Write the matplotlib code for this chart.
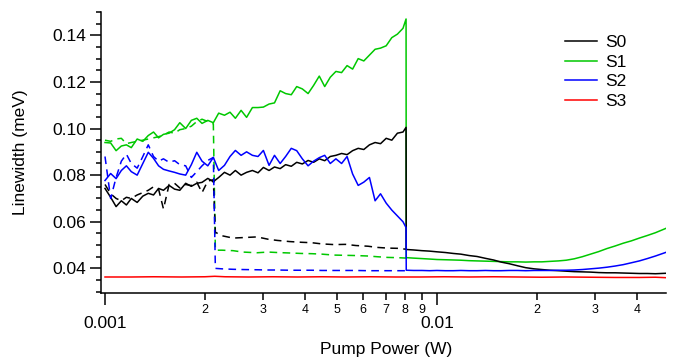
import matplotlib
matplotlib.use("Agg")
import matplotlib.pyplot as plt
from matplotlib.ticker import FixedLocator, FixedFormatter, NullFormatter

plt.rcParams['font.family'] = ['Liberation Sans', 'DejaVu Sans']

# low power sweep (solid traces), W
x_low = [0.00100, 0.00104, 0.00108, 0.00112, 0.00116, 0.00120, 0.00125, 0.00130,
         0.00135, 0.00140, 0.00145, 0.00150, 0.00156, 0.00162, 0.00168, 0.00175,
         0.00182, 0.00189, 0.00196, 0.00204, 0.00212, 0.00220, 0.00229, 0.00238,
         0.00247, 0.00257, 0.00267, 0.00278, 0.00289, 0.00300, 0.00312, 0.00324,
         0.00337, 0.00350, 0.00364, 0.00378, 0.00393, 0.00409, 0.00425, 0.00442,
         0.00459, 0.00477, 0.00496, 0.00516, 0.00536, 0.00557, 0.00579, 0.00602,
         0.00626, 0.00651, 0.00676, 0.00703, 0.00731, 0.00760, 0.00790, 0.00807]

s0_low = [0.0743, 0.0705, 0.0665, 0.0690, 0.0672, 0.0700, 0.0683, 0.0710, 0.0722, 0.0715,
          0.0743, 0.0735, 0.0756, 0.0740, 0.0735, 0.0765, 0.0752, 0.0765, 0.0769, 0.0786,
          0.0772, 0.0790, 0.0812, 0.0800, 0.0820, 0.0800, 0.0812, 0.0820, 0.0810, 0.0833,
          0.0820, 0.0835, 0.0828, 0.0845, 0.0838, 0.0855, 0.0848, 0.0863, 0.0855, 0.0870,
          0.0862, 0.0880, 0.0885, 0.0893, 0.0888, 0.0905, 0.0915, 0.0910, 0.0930, 0.0940,
          0.0935, 0.0958, 0.0950, 0.0980, 0.0985, 0.1005]

s1_low = [0.0940, 0.0938, 0.0905, 0.0925, 0.0930, 0.0918, 0.0955, 0.0945, 0.0970, 0.0985,
          0.0960, 0.0975, 0.0980, 0.0995, 0.1025, 0.1000, 0.1035, 0.1044, 0.1022, 0.1035,
          0.1025, 0.1066, 0.1057, 0.1070, 0.1044, 0.1078, 0.1048, 0.1090, 0.1090, 0.1092,
          0.1105, 0.1110, 0.1162, 0.1150, 0.1145, 0.1180, 0.1170, 0.1150, 0.1185, 0.1225,
          0.1180, 0.1220, 0.1245, 0.1240, 0.1270, 0.1255, 0.1300, 0.1290, 0.1315, 0.1340,
          0.1345, 0.1355, 0.1390, 0.1405, 0.1430, 0.1470]

s2_low = [0.0777, 0.0807, 0.0785, 0.0820, 0.0840, 0.0815, 0.0800, 0.0850, 0.0898, 0.0872,
          0.0840, 0.0825, 0.0818, 0.0812, 0.0805, 0.0800, 0.0845, 0.0898, 0.0860, 0.0840,
          0.0876, 0.0820, 0.0842, 0.0880, 0.0906, 0.0885, 0.0900, 0.0885, 0.0880, 0.0906,
          0.0842, 0.0885, 0.0850, 0.0880, 0.0915, 0.0905, 0.0870, 0.0840, 0.0860, 0.0875,
          0.0885, 0.0850, 0.0870, 0.0850, 0.0880, 0.0805, 0.0756, 0.0770, 0.0790, 0.0690,
          0.0720, 0.0680, 0.0650, 0.0625, 0.0600, 0.0575]

# high power part, after the jump (solid and dashed coincide here)
x_high = [0.00808, 0.0085, 0.0090, 0.0095, 0.0100, 0.0106, 0.0112, 0.0118, 0.0125,
          0.0132, 0.0140, 0.0148, 0.0156, 0.0165, 0.0175, 0.0185, 0.0196, 0.0207,
          0.0219, 0.0232, 0.0245, 0.0259, 0.0274, 0.0290, 0.0307, 0.0325, 0.0344,
          0.0364, 0.0385, 0.0407, 0.0430, 0.0455, 0.0490]

s0_high = [0.0481, 0.0479, 0.0476, 0.0474, 0.0471, 0.0468, 0.0464, 0.0461, 0.0455,
           0.0451, 0.0443, 0.0436, 0.0427, 0.0420, 0.0411, 0.0403, 0.0398, 0.0395,
           0.0392, 0.0390, 0.0388, 0.0386, 0.0385, 0.0384, 0.0382, 0.0381, 0.0381,
           0.0380, 0.0379, 0.0378, 0.0378, 0.0377, 0.0379]

s1_high = [0.0446, 0.0444, 0.0442, 0.0440, 0.0438, 0.0437, 0.0436, 0.0435, 0.0433,
           0.0432, 0.0431, 0.0430, 0.0429, 0.0428, 0.0428, 0.0427, 0.0428, 0.0428,
           0.0430, 0.0432, 0.0435, 0.0441, 0.0450, 0.0461, 0.0472, 0.0485, 0.0496,
           0.0508, 0.0518, 0.0530, 0.0541, 0.0553, 0.0572]

s2_high = [0.0392, 0.0391, 0.0391, 0.0390, 0.0391, 0.0390, 0.0390, 0.0391, 0.0390,
           0.0390, 0.0391, 0.0390, 0.0390, 0.0391, 0.0391, 0.0390, 0.0391, 0.0391,
           0.0391, 0.0392, 0.0392, 0.0393, 0.0395, 0.0398, 0.0401, 0.0405, 0.0410,
           0.0416, 0.0424, 0.0432, 0.0442, 0.0453, 0.0469]

# dashed traces (second sweep), jump near 2.14 mW
x_dash_lo = x_low[:21]
x_dash_hi = [0.00215, 0.00225, 0.00243, 0.00260, 0.00287, 0.00310, 0.00330, 0.00360,
             0.00390, 0.00420, 0.00450, 0.00490, 0.00530, 0.00570, 0.00620, 0.00660,
             0.00710, 0.00760, 0.00810]

s0_dash_lo = [0.0760, 0.0720, 0.0700, 0.0690, 0.0705, 0.0700, 0.0715, 0.0725, 0.0735,
              0.0750, 0.0740, 0.0655, 0.0760, 0.0765, 0.0745, 0.0760, 0.0755, 0.0770,
              0.0725, 0.0775, 0.0780]
s0_dash_hi = [0.0555, 0.0540, 0.0530, 0.0532, 0.0535, 0.0525, 0.0520, 0.0515, 0.0512,
              0.0510, 0.0505, 0.0502, 0.0503, 0.0498, 0.0495, 0.0490, 0.0487, 0.0486,
              0.0482]

s1_dash_lo = [0.0950, 0.0945, 0.0955, 0.0958, 0.0935, 0.0940, 0.0945, 0.0950, 0.0955,
              0.0960, 0.0965, 0.0972, 0.0985, 0.0980, 0.0995, 0.1000, 0.1010, 0.1030,
              0.1040, 0.1030, 0.1020]
s1_dash_hi = [0.0478, 0.0478, 0.0476, 0.0470, 0.0467, 0.0470, 0.0468, 0.0466, 0.0464,
              0.0463, 0.0461, 0.0457, 0.0456, 0.0455, 0.0453, 0.0450, 0.0447, 0.0446,
              0.0444]

s2_dash_lo = [0.0880, 0.0700, 0.0790, 0.0860, 0.0890, 0.0850, 0.0830, 0.0880, 0.0930,
              0.0880, 0.0860, 0.0870, 0.0855, 0.0862, 0.0845, 0.0840, 0.0790, 0.0815,
              0.0840, 0.0863, 0.0876]
s2_dash_hi = [0.0400, 0.0398, 0.0396, 0.0395, 0.0394, 0.0393, 0.0393, 0.0392, 0.0392,
              0.0392, 0.0391, 0.0391, 0.0391, 0.0391, 0.0390, 0.0390, 0.0390, 0.0390,
              0.0390]

# S3 is flat over the whole range
x_s3 = [0.00100, 0.00120, 0.00140, 0.00170, 0.00200, 0.00214, 0.00230, 0.00270, 0.00320,
        0.00380, 0.00450, 0.00530, 0.00630, 0.00750, 0.00890, 0.0105, 0.0125, 0.0148,
        0.0175, 0.0207, 0.0245, 0.0290, 0.0344, 0.0407, 0.0455, 0.0490]
s3 = [0.0363, 0.0363, 0.0364, 0.0363, 0.0364, 0.0366, 0.0364, 0.0363, 0.0364, 0.0363,
      0.0364, 0.0363, 0.0364, 0.0363, 0.0363, 0.0364, 0.0363, 0.0364, 0.0363, 0.0362,
      0.0363, 0.0362, 0.0361, 0.0361, 0.0362, 0.0360]

labels = ['S0', 'S1', 'S2', 'S3']
colors = ['black', '#00c800', '#0000ff', '#ff0000']

fig = plt.figure(figsize=(6.78, 3.58), dpi=100)
ax = fig.add_axes([0.1497, 0.1807, 0.8326, 0.7858])

lw = 1.1
dash = (5, 3.5)

handles = {}
# green, then black, then blue, then red on top
for name, lo, hi, dlo, dhi, c in [
        ('S1', s1_low, s1_high, s1_dash_lo, s1_dash_hi, colors[1]),
        ('S0', s0_low, s0_high, s0_dash_lo, s0_dash_hi, colors[0]),
        ('S2', s2_low, s2_high, s2_dash_lo, s2_dash_hi, colors[2])]:
    ax.plot(x_dash_lo + x_dash_hi, dlo + dhi, color=c, lw=lw, dashes=dash)
    h, = ax.plot(x_low + x_high, lo + hi, color=c, lw=lw, label=name)
    handles[name] = h
h, = ax.plot(x_s3, s3, color=colors[3], lw=lw, label='S3')
handles['S3'] = h

ax.set_xscale('log')
ax.set_xlim(0.000976, 0.04896)
ax.set_ylim(0.0293, 0.150)

ax.xaxis.set_major_locator(FixedLocator([0.001, 0.01]))
ax.xaxis.set_major_formatter(FixedFormatter(['0.001', '0.01']))
minor_x = [0.002, 0.003, 0.004, 0.005, 0.006, 0.007, 0.008, 0.009, 0.02, 0.03, 0.04]
ax.xaxis.set_minor_locator(FixedLocator(minor_x))
ax.xaxis.set_minor_formatter(FixedFormatter(['2', '3', '4', '5', '6', '7', '8', '9',
                                             '2', '3', '4']))

ax.yaxis.set_major_locator(FixedLocator([0.04, 0.06, 0.08, 0.10, 0.12, 0.14]))
ax.yaxis.set_major_formatter(FixedFormatter(['0.04', '0.06', '0.08', '0.10', '0.12', '0.14']))
ax.yaxis.set_minor_locator(FixedLocator([0.030, 0.035, 0.045, 0.050, 0.055, 0.065, 0.070,
                                         0.075, 0.085, 0.090, 0.095, 0.105, 0.110, 0.115,
                                         0.125, 0.130, 0.135, 0.145, 0.150]))
ax.yaxis.set_minor_formatter(NullFormatter())

for s in ['top', 'right']:
    ax.spines[s].set_visible(False)
for s in ['left', 'bottom']:
    ax.spines[s].set_linewidth(1.1)

ax.tick_params(axis='x', which='major', direction='out', length=8.6, width=1.1,
               pad=7.5, labelsize=12.5)
ax.tick_params(axis='x', which='minor', direction='out', length=5, width=1.1,
               pad=2.5, labelsize=9)
ax.tick_params(axis='y', which='major', direction='out', length=8, width=1.1,
               pad=3, labelsize=12.5)
ax.tick_params(axis='y', which='minor', direction='out', length=3.8, width=1.1)

ax.set_xlabel('Pump Power (W)', fontsize=12.5)
ax.xaxis.set_label_coords(0.504, -0.172)
ax.set_ylabel('Linewidth (meV)', fontsize=12.5)
ax.yaxis.set_label_coords(-0.13, 0.502)

ax.legend([handles[k] for k in labels], labels, loc='upper left',
          bbox_to_anchor=(565 / 678, 1 - 35 / 358), bbox_transform=fig.transFigure,
          frameon=False, fontsize=12.5, handlelength=1.85, handletextpad=0.45,
          labelspacing=0.25, borderpad=0, borderaxespad=0)

fig.savefig('out.png', dpi=100)
